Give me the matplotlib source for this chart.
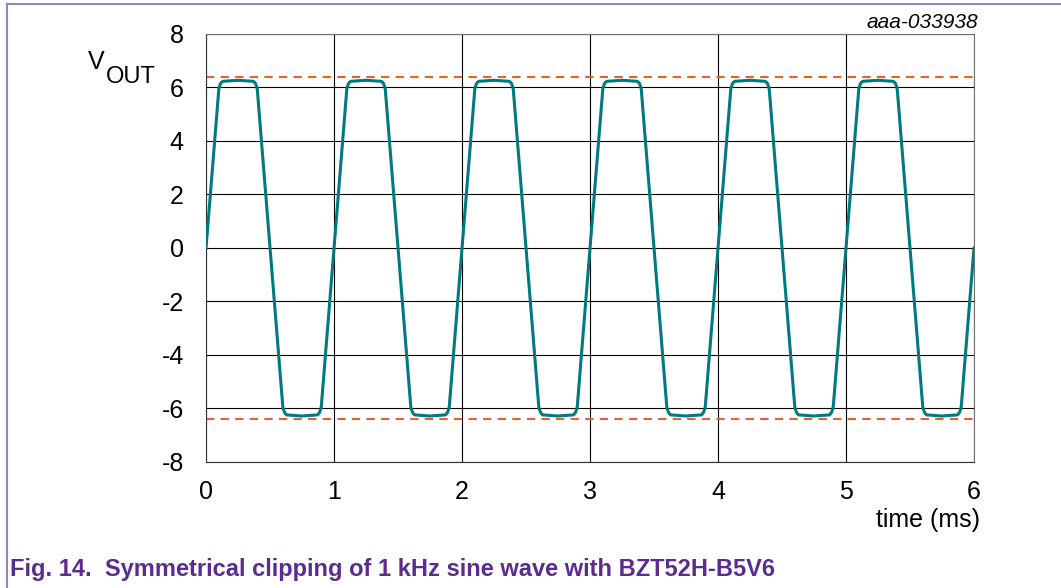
import matplotlib
matplotlib.use("Agg")
import matplotlib.pyplot as plt
from matplotlib.lines import Line2D

# waveform, one row per 1 ms cycle
time_ms = [
    0.00, 0.10, 0.113, 0.13, 0.25, 0.37, 0.387, 0.40, 0.50, 0.60, 0.613, 0.63, 0.75, 0.87, 0.887, 0.90,
    1.00, 1.10, 1.113, 1.13, 1.25, 1.37, 1.387, 1.40, 1.50, 1.60, 1.613, 1.63, 1.75, 1.87, 1.887, 1.90,
    2.00, 2.10, 2.113, 2.13, 2.25, 2.37, 2.387, 2.40, 2.50, 2.60, 2.613, 2.63, 2.75, 2.87, 2.887, 2.90,
    3.00, 3.10, 3.113, 3.13, 3.25, 3.37, 3.387, 3.40, 3.50, 3.60, 3.613, 3.63, 3.75, 3.87, 3.887, 3.90,
    4.00, 4.10, 4.113, 4.13, 4.25, 4.37, 4.387, 4.40, 4.50, 4.60, 4.613, 4.63, 4.75, 4.87, 4.887, 4.90,
    5.00, 5.10, 5.113, 5.13, 5.25, 5.37, 5.387, 5.40, 5.50, 5.60, 5.613, 5.63, 5.75, 5.87, 5.887, 5.90,
    6.00,
]
vout = [
    0, 5.95, 6.15, 6.23, 6.27, 6.23, 6.15, 5.95, 0, -5.95, -6.15, -6.24, -6.28, -6.24, -6.15, -5.95,
    0, 5.95, 6.15, 6.23, 6.27, 6.23, 6.15, 5.95, 0, -5.95, -6.15, -6.24, -6.28, -6.24, -6.15, -5.95,
    0, 5.95, 6.15, 6.23, 6.27, 6.23, 6.15, 5.95, 0, -5.95, -6.15, -6.24, -6.28, -6.24, -6.15, -5.95,
    0, 5.95, 6.15, 6.23, 6.27, 6.23, 6.15, 5.95, 0, -5.95, -6.15, -6.24, -6.28, -6.24, -6.15, -5.95,
    0, 5.95, 6.15, 6.23, 6.27, 6.23, 6.15, 5.95, 0, -5.95, -6.15, -6.24, -6.28, -6.24, -6.15, -5.95,
    0, 5.95, 6.15, 6.23, 6.27, 6.23, 6.15, 5.95, 0, -5.95, -6.15, -6.24, -6.28, -6.24, -6.15, -5.95,
    0,
]
clip_levels = [6.4, -6.4]
xticks = [0, 1, 2, 3, 4, 5, 6]
yticks = [-8, -6, -4, -2, 0, 2, 4, 6, 8]

plt.rcParams['font.family'] = ['Liberation Sans', 'DejaVu Sans']

fig = plt.figure(figsize=(10.61, 5.88), dpi=100)
ax = fig.add_axes([0.1942, 0.2143, 0.7238, 0.7279])

for lvl in clip_levels:
    ax.axhline(lvl, color="#E8602C", lw=1.5, ls=(0, (4, 3)), zorder=2)
ax.plot(time_ms, vout, color="#007A80", lw=2.2, solid_joinstyle="round", zorder=3)

ax.set_xlim(0, 6)
ax.set_ylim(-8, 8)
ax.set_xticks(xticks)
ax.set_yticks(yticks)
ax.set_xticklabels([str(t) for t in xticks])
ax.set_yticklabels([str(t) for t in yticks])
ax.grid(True, color="black", lw=0.8)
ax.tick_params(length=0, labelsize=18)
ax.tick_params(axis="y", pad=16)
ax.tick_params(axis="x", pad=13)
for s in ["top", "right"]:
    ax.spines[s].set_color("#707070")
for s in ["left", "bottom"]:
    ax.spines[s].set_color("#333333")

fig.text(0.0905, 0.8946, "V", fontsize=18, ha="center", va="center")
fig.text(0.1000, 0.869, "OUT", fontsize=17, ha="left", va="center")
fig.text(0.875, 0.116, "time (ms)", fontsize=18, ha="center", va="center")
fig.text(0.922, 0.962, "aaa-033938", fontsize=15, style="italic", ha="right", va="center")
fig.text(0.0094, 0.032, "Fig. 14.  Symmetrical clipping of 1 kHz sine wave with BZT52H-B5V6",
         fontsize=17, weight="bold", color="#5B2C8F", ha="left", va="center")

# page frame
fig.add_artist(Line2D([0.0066, 1.0], [0.9932, 0.9932], color="#9B82BE", lw=1.5))
fig.add_artist(Line2D([0.0066, 0.0066], [0.0, 0.9932], color="#9B82BE", lw=1.5))

fig.savefig("out.png", dpi=100)
